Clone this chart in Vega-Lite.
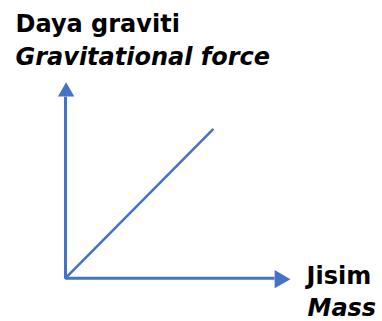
{
  "$schema": "https://vega.github.io/schema/vega-lite/v6.json",
  "width": 382,
  "height": 321,
  "autosize": {"type": "fit", "contains": "padding"},
  "padding": 0,
  "background": "white",
  "config": {"view": {"stroke": null}},
  "datasets": {
    "lines": [
      {"part": "force axis", "x": 0, "y": 0},
      {"part": "force axis", "x": 0, "y": 9.1},
      {"part": "mass axis", "x": 0, "y": 0},
      {"part": "mass axis", "x": 10.45, "y": 0},
      {"part": "relation", "x": 0, "y": 0},
      {"part": "relation", "x": 7.36, "y": 7.45}
    ],
    "heads": [
      {"part": "force axis", "x": 0.03, "y": 9.47},
      {"part": "mass axis", "x": 10.85, "y": -0.05}
    ],
    "labels": [
      {"lang": "ms", "text": "Daya graviti", "x": -2.5, "y": 12.35},
      {"lang": "en", "text": "Gravitational force", "x": -2.5, "y": 10.7},
      {"lang": "ms", "text": "Jisim", "x": 12.05, "y": -0.3},
      {"lang": "en", "text": "Mass", "x": 12.1, "y": -1.9}
    ]
  },
  "encoding": {
    "x": {"field": "x", "type": "quantitative", "scale": {"domain": [-3.275, 15.825], "nice": false, "zero": false}, "axis": null},
    "y": {"field": "y", "type": "quantitative", "scale": {"domain": [-2.1, 13.95], "nice": false, "zero": false}, "axis": null}
  },
  "layer": [
    {
      "data": {"name": "lines"},
      "transform": [{"filter": "datum.part !== 'relation'"}],
      "mark": {"type": "line", "color": "#4472C4", "strokeWidth": 3, "strokeCap": "butt"},
      "encoding": {"detail": {"field": "part"}, "order": {"field": "y"}}
    },
    {
      "data": {"name": "lines"},
      "transform": [{"filter": "datum.part === 'relation'"}],
      "mark": {"type": "line", "color": "#4472C4", "strokeWidth": 2.5, "strokeCap": "round"},
      "encoding": {"detail": {"field": "part"}}
    },
    {
      "data": {"name": "heads"},
      "transform": [{"filter": "datum.part === 'force axis'"}],
      "mark": {"type": "point", "shape": "triangle-up", "filled": true, "color": "#4472C4", "opacity": 1, "size": 270}
    },
    {
      "data": {"name": "heads"},
      "transform": [{"filter": "datum.part === 'mass axis'"}],
      "mark": {"type": "point", "shape": "triangle-right", "filled": true, "color": "#4472C4", "opacity": 1, "size": 330}
    },
    {
      "data": {"name": "labels"},
      "transform": [{"filter": "datum.lang === 'ms'"}],
      "mark": {"type": "text", "align": "left", "baseline": "alphabetic", "font": "DejaVu Sans", "fontWeight": "bold", "fontSize": 24, "color": "#000000"},
      "encoding": {"text": {"field": "text"}}
    },
    {
      "data": {"name": "labels"},
      "transform": [{"filter": "datum.lang === 'en'"}],
      "mark": {"type": "text", "align": "left", "baseline": "alphabetic", "font": "DejaVu Sans", "fontWeight": "bold", "fontStyle": "italic", "fontSize": 24, "color": "#000000"},
      "encoding": {"text": {"field": "text"}}
    }
  ]
}
